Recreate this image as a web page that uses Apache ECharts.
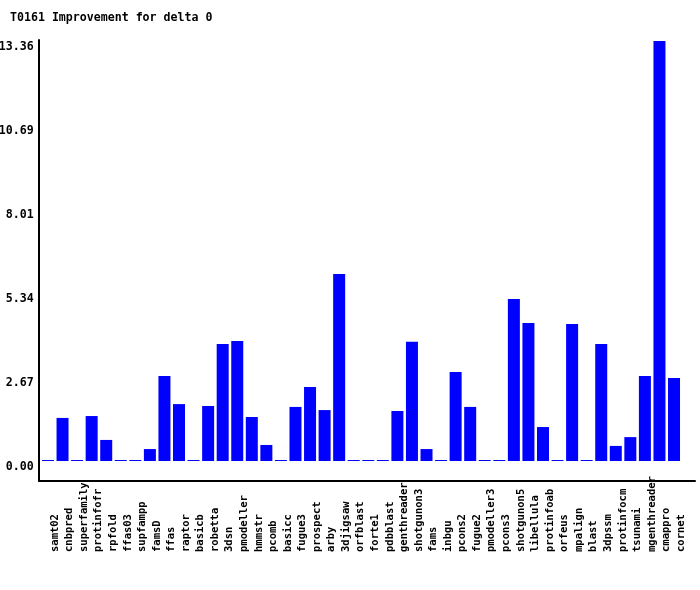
<!DOCTYPE html>
<html>
<head>
<meta charset="utf-8">
<script src="https://cdn.jsdelivr.net/npm/echarts@6/dist/echarts.min.js"></script>
<style>
html,body{margin:0;padding:0;background:#fff;}
#chart{width:700px;height:590px;}
</style>
</head>
<body>
<div id="chart"></div>
<script>
var titleText = 'T0161 Improvement for delta 0';
var categories = ['samt02','cnbpred','superfamily','protinfofr','rpfold','ffas03','supfampp','famsD','ffas','raptor','basicb','robetta','3dsn','pmodeller','hmmstr','pcomb','basicc','fugue3','prospect','arby','3djigsaw','orfblast','forte1','pdbblast','genthreader','shotgunon3','fams','inbgu','pcons2','fugue2','pmodeller3','pcons3','shotgunon5','libellula','protinfoab','orfeus','mpalign','blast','3dpssm','protinfocm','tsunami','mgenthreader','cmappro','cornet'];
var values = [0,1.37,0,1.43,0.67,0,0,0.38,2.70,1.81,0,1.75,3.72,3.82,1.40,0.51,0,1.72,2.35,1.62,5.95,0,0,0,1.59,3.79,0.38,0,2.83,1.72,0,0,5.15,4.39,1.08,0,4.36,0,3.72,0.48,0.76,2.70,13.36,2.64];
var yTicks = [0, 2.6716, 5.3432, 8.0148, 10.6864, 13.358];

var FONT = 'DejaVu Sans Mono';
var chart = echarts.init(document.getElementById('chart'), null, {renderer:'canvas'});
chart.setOption({
  animation: false,
  backgroundColor: '#ffffff',
  title: {
    text: titleText,
    left: 10, top: 12, padding: 0,
    textStyle: {fontFamily: FONT, fontWeight: 'bold', fontSize: 11.6, color: '#000'}
  },
  grid: [
    {left: 40.7, width: 640.6, top: 40, bottom: 109, containLabel: false, outerBoundsMode: 'none'},
    {left: 39, right: 5, top: 40, bottom: 109, containLabel: false, outerBoundsMode: 'none'}
  ],
  xAxis: [
    {
      type: 'category', gridIndex: 0, data: categories,
      axisLine: {show: false}, axisTick: {show: false},
      axisLabel: {
        interval: 0, rotate: 90, align: 'left', verticalAlign: 'top', margin: 71, lineHeight: 14,
        fontFamily: FONT, fontWeight: 'bold', fontSize: 10.5, color: '#000'
      }
    },
    {
      type: 'value', gridIndex: 1, min: 0, max: 1,
      axisLine: {show: true, lineStyle: {color: '#000', width: 2}},
      axisTick: {show: false}, axisLabel: {show: false}, splitLine: {show: false}
    }
  ],
  yAxis: [
    {
      type: 'value', gridIndex: 0, min: -0.636, max: 13.39,
      axisLine: {show: false}, axisTick: {show: false}, splitLine: {show: false},
      axisLabel: {
        customValues: yTicks, margin: 7, verticalAlign: 'top', lineHeight: 12,
        formatter: function (v) { return v.toFixed(2); },
        fontFamily: FONT, fontWeight: 'bold', fontSize: 11.6, color: '#000'
      }
    },
    {
      type: 'value', gridIndex: 1, min: 0, max: 1,
      axisLine: {show: true, lineStyle: {color: '#000', width: 2}},
      axisTick: {show: false}, axisLabel: {show: false}, splitLine: {show: false}
    }
  ],
  series: [{
    type: 'bar', xAxisIndex: 0, yAxisIndex: 0,
    data: values, barWidth: 12, barMinHeight: 1,
    itemStyle: {color: '#0000ff'}
  }]
});
</script>
</body>
</html>
